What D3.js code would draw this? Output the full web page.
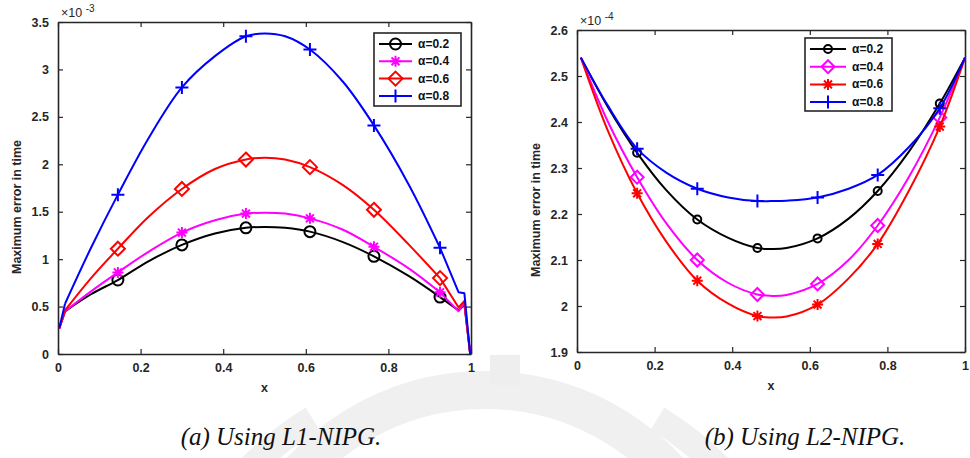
<!DOCTYPE html>
<html>
<head>
<meta charset="utf-8">
<script src="https://cdn.jsdelivr.net/npm/d3@7"></script>
<style>
    body { margin: 0; background: #fff; }
    svg { display: block; }
    .tick text { font-family: "Liberation Sans", Arial, sans-serif; font-weight: bold; font-size: 12.5px; fill: #262626; }
    .lbl { font-family: "Liberation Sans", Arial, sans-serif; font-weight: bold; font-size: 12.5px; fill: #262626; }
    .cap { font-family: "Liberation Serif", serif; font-style: italic; font-size: 25px; fill: #111; }
</style>
</head>
<body>
<svg id="chart" width="970" height="458"></svg>
<script>
// ---- data ----
// panel (a) L1-NIPG, values x 1e-3
const xL = [0.003, 0.017, 0.08, 0.145, 0.22, 0.3, 0.38, 0.455, 0.5, 0.55, 0.61, 0.69, 0.765, 0.85, 0.925, 0.97, 0.984, 0.998];
const l1a02 = [0.27, 0.45, 0.63, 0.78, 0.98, 1.15, 1.27, 1.33, 1.34, 1.33, 1.29, 1.18, 1.03, 0.82, 0.60, 0.46, 0.52, 0.0];
const l1a04 = [0.27, 0.45, 0.66, 0.86, 1.08, 1.28, 1.41, 1.48, 1.49, 1.48, 1.43, 1.31, 1.13, 0.90, 0.65, 0.45, 0.54, 0.0];
const l1a06 = [0.27, 0.46, 0.80, 1.11, 1.45, 1.74, 1.95, 2.05, 2.07, 2.05, 1.97, 1.78, 1.52, 1.15, 0.80, 0.49, 0.56, 0.0];
const l1a08 = [0.27, 0.53, 1.12, 1.68, 2.28, 2.81, 3.14, 3.35, 3.38, 3.35, 3.21, 2.87, 2.41, 1.78, 1.12, 0.65, 0.64, 0.0];
const markIdxL = [3, 5, 7, 10, 12, 14];

// panel (b) L2-NIPG, values x 1e-4
const xR = [0.01, 0.08, 0.155, 0.23, 0.31, 0.39, 0.465, 0.5, 0.54, 0.62, 0.7, 0.775, 0.855, 0.935, 1.0];
const l2a02 = [2.54, 2.432, 2.333, 2.252, 2.188, 2.148, 2.126, 2.124, 2.126, 2.147, 2.19, 2.25, 2.335, 2.44, 2.54];
const l2a04 = [2.54, 2.40, 2.28, 2.18, 2.10, 2.05, 2.025, 2.022, 2.024, 2.048, 2.10, 2.175, 2.28, 2.41, 2.54];
const l2a06 = [2.54, 2.38, 2.245, 2.14, 2.055, 2.005, 1.978, 1.975, 1.977, 2.003, 2.06, 2.135, 2.25, 2.39, 2.54];
const l2a08 = [2.54, 2.435, 2.342, 2.29, 2.255, 2.236, 2.228, 2.228, 2.229, 2.236, 2.255, 2.285, 2.345, 2.43, 2.54];
const markIdxR = [2, 4, 6, 9, 11, 13];

const alphaLabels = ["α=0.2", "α=0.4", "α=0.6", "α=0.8"];
const xTicks = [0, 0.2, 0.4, 0.6, 0.8, 1];
const yTicksL = [0, 0.5, 1, 1.5, 2, 2.5, 3, 3.5];
const yTicksR = [1.9, 2, 2.1, 2.2, 2.3, 2.4, 2.5, 2.6];

const svg = d3.select('#chart');

// faint watermark behind everything
const wm = svg.append('g').attr('fill', 'none').attr('stroke', '#f0f0f0');
wm.append('path').attr('stroke-width', 38)
    .attr('d', d3.arc()({ innerRadius: 250, outerRadius: 250, startAngle: -1.1, endAngle: 1.1 }))
    .attr('transform', 'translate(485,640)');
wm.append('path').attr('stroke-width', 26)
    .attr('d', d3.arc()({ innerRadius: 330, outerRadius: 330, startAngle: -0.9, endAngle: -0.55 }))
    .attr('transform', 'translate(485,700)');
wm.append('path').attr('stroke-width', 26)
    .attr('d', d3.arc()({ innerRadius: 330, outerRadius: 330, startAngle: 0.55, endAngle: 0.9 }))
    .attr('transform', 'translate(485,700)');
svg.append('rect').attr('x', 490).attr('y', 355).attr('width', 30).attr('height', 30).attr('fill', '#eeeeee');

// marker shapes (MATLAB style)
function markerPath(type, s) {
    const p = d3.path();
    if (type === 'circle') {
        p.moveTo(s, 0); p.arc(0, 0, s, 0, 2 * Math.PI);
    } else if (type === 'diamond') {
        p.moveTo(0, -s); p.lineTo(s, 0); p.lineTo(0, s); p.lineTo(-s, 0); p.closePath();
    } else if (type === 'plus') {
        p.moveTo(-s, 0); p.lineTo(s, 0); p.moveTo(0, -s); p.lineTo(0, s);
    } else if (type === 'star') {
        const d = s * 0.72;
        p.moveTo(-s, 0); p.lineTo(s, 0); p.moveTo(0, -s); p.lineTo(0, s);
        p.moveTo(-d, -d); p.lineTo(d, d); p.moveTo(-d, d); p.lineTo(d, -d);
    }
    return p.toString();
}

function drawPanel(cfg) {
    const x = d3.scaleLinear().domain([0, 1]).range([cfg.left, cfg.right]);
    const y = d3.scaleLinear().domain(cfg.yDomain).range([cfg.bottom, cfg.top]);
    const g = svg.append('g');

    // box with inward ticks on all four sides
    g.append('rect')
        .attr('x', cfg.left).attr('y', cfg.top)
        .attr('width', cfg.right - cfg.left).attr('height', cfg.bottom - cfg.top)
        .attr('fill', '#fff');

    const fmt = d => String(+d.toFixed(1));
    const axes = [
        [d3.axisBottom(x).tickValues(xTicks).tickFormat(fmt), `translate(0,${cfg.bottom})`],
        [d3.axisTop(x).tickValues(xTicks).tickFormat(''), `translate(0,${cfg.top})`],
        [d3.axisLeft(y).tickValues(cfg.yTicks).tickFormat(fmt), `translate(${cfg.left},0)`],
        [d3.axisRight(y).tickValues(cfg.yTicks).tickFormat(''), `translate(${cfg.right},0)`]
    ];
    axes.forEach(([ax, tr]) => {
        const a = g.append('g').attr('transform', tr)
            .call(ax.tickSizeInner(-5).tickSizeOuter(0).tickPadding(9));
        a.select('.domain').attr('stroke', '#262626').attr('stroke-width', 1.6);
        a.selectAll('.tick line').attr('stroke', '#262626').attr('stroke-width', 1.2);
    });

    // curves: linear end pieces, smooth interior
    const pts = cfg.series.map(s => cfg.xs.map((v, i) => [v, s.values[i]]));
    const lineLin = d3.line().x(d => x(d[0])).y(d => y(d[1]));
    const lineSm = d3.line().x(d => x(d[0])).y(d => y(d[1])).curve(d3.curveCatmullRom.alpha(0.5));
    cfg.series.forEach((s, k) => {
        const p = pts[k];
        const [a, b] = cfg.smooth;
        const pieces = [
            [p.slice(0, a + 1), lineLin],
            [p.slice(a, b + 1), lineSm],
            [p.slice(b), lineLin]
        ];
        pieces.forEach(([seg, gen]) => {
            if (seg.length < 2) return;
            g.append('path').datum(seg)
                .attr('d', gen)
                .attr('fill', 'none')
                .attr('stroke', s.color)
                .attr('stroke-width', 2)
                .attr('stroke-linejoin', 'round');
        });
        g.selectAll(null).data(cfg.markIdx.map(i => p[i])).join('path')
            .attr('transform', d => `translate(${x(d[0])},${y(d[1])})`)
            .attr('d', markerPath(s.marker, s.size))
            .attr('fill', 'none')
            .attr('stroke', s.color)
            .attr('stroke-width', 2);
    });

    // exponent label
    const ex = g.append('text').attr('class', 'lbl')
        .attr('x', cfg.left + 3).attr('y', cfg.top - 5)
        .style('font-weight', 'normal').style('font-size', '12.5px');
    ex.append('tspan').text('×10 ');
    ex.append('tspan').text(cfg.exp).attr('dy', -5).style('font-size', '10px');

    // axis labels
    g.append('text').attr('class', 'lbl')
        .attr('x', (cfg.left + cfg.right) / 2).attr('y', cfg.bottom + 38)
        .attr('text-anchor', 'middle').text('x');
    g.append('text').attr('class', 'lbl')
        .attr('transform', `translate(${cfg.left - 37},${cfg.yLabelMid}) rotate(-90)`)
        .attr('text-anchor', 'middle').text('Maximum error in time');

    // legend
    const L = cfg.legend;
    const lg = g.append('g').attr('transform', `translate(${L.x},${L.y})`);
    lg.append('rect').attr('width', L.w).attr('height', L.h)
        .attr('fill', '#fff').attr('stroke', '#262626').attr('stroke-width', 1.6);
    cfg.series.forEach((s, k) => {
        const ry = L.row0 + k * L.step;
        lg.append('line').attr('x1', 5).attr('x2', L.lineW + 5).attr('y1', ry).attr('y2', ry)
            .attr('stroke', s.color).attr('stroke-width', 2);
        lg.append('path').attr('transform', `translate(${5 + L.lineW / 2},${ry})`)
            .attr('d', markerPath(s.marker, s.size))
            .attr('fill', 'none').attr('stroke', s.color).attr('stroke-width', 2);
        lg.append('text').attr('class', 'lbl')
            .attr('x', L.lineW + 11).attr('y', ry + 4)
            .style('fill', '#111').style('font-size', '12px').text(alphaLabels[k]);
    });

    // caption
    svg.append('text').attr('class', 'cap')
        .attr('x', cfg.capX).attr('y', 445)
        .attr('text-anchor', 'middle').text(cfg.caption);
}

drawPanel({
    left: 58, right: 471, top: 22, bottom: 354,
    yDomain: [0, 3.5], yTicks: yTicksL, exp: '-3', yLabelMid: 207,
    xs: xL, markIdx: markIdxL, smooth: [1, 14],
    series: [
        { values: l1a02, color: '#000000', marker: 'circle', size: 5.5 },
        { values: l1a04, color: '#ff00ff', marker: 'star', size: 5.5 },
        { values: l1a06, color: '#ff0000', marker: 'diamond', size: 7 },
        { values: l1a08, color: '#0000ff', marker: 'plus', size: 6.5 }
    ],
    legend: { x: 374, y: 33, w: 87, h: 73, row0: 11, step: 17.3, lineW: 33 },
    caption: '(a) Using L1-NIPG.', capX: 281
});

drawPanel({
    left: 577, right: 965, top: 30, bottom: 352,
    yDomain: [1.9, 2.6], yTicks: yTicksR, exp: '-4', yLabelMid: 210,
    xs: xR, markIdx: markIdxR, smooth: [0, 14],
    series: [
        { values: l2a02, color: '#000000', marker: 'circle', size: 4 },
        { values: l2a04, color: '#ff00ff', marker: 'diamond', size: 6.5 },
        { values: l2a06, color: '#ff0000', marker: 'star', size: 5.5 },
        { values: l2a08, color: '#0000ff', marker: 'plus', size: 6.5 }
    ],
    legend: { x: 805, y: 38, w: 87, h: 73, row0: 11, step: 17.7, lineW: 36 },
    caption: '(b) Using L2-NIPG.', capX: 805
});
</script>
</body>
</html>
